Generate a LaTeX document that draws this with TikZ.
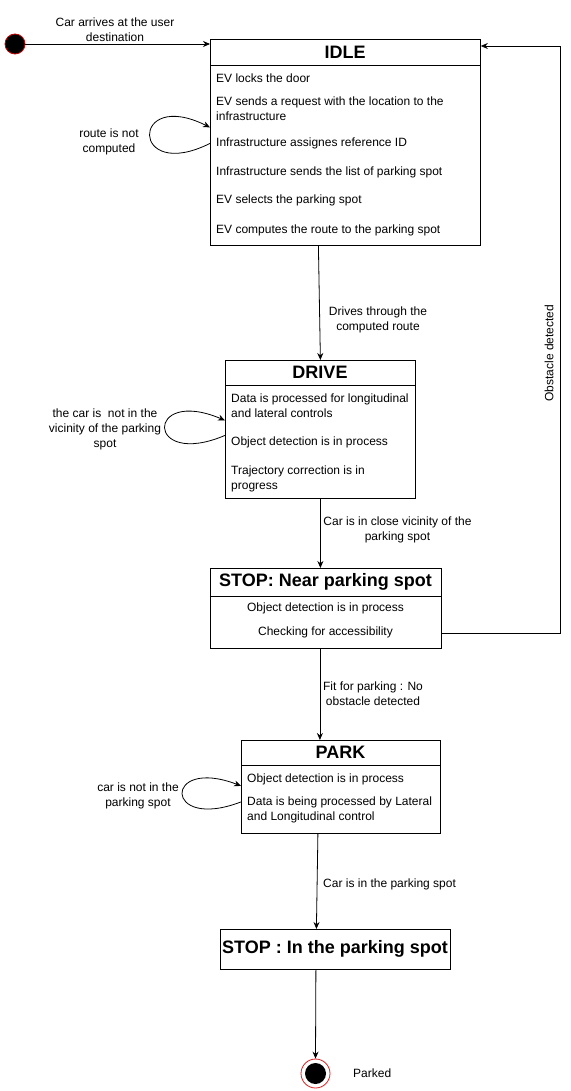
\documentclass[tikz,border=0pt]{standalone}
\usepackage{fontspec}
\setmainfont{Liberation Sans}
\usetikzlibrary{arrows.meta}
\begin{document}
\begin{tikzpicture}[x=1pt,y=-1pt,
  statebox/.style={draw=black,line width=0.8pt,rectangle,inner sep=0pt,anchor=north west},
  ttl/.style={font=\fontsize{18}{21}\selectfont\bfseries,inner sep=0pt},
  body/.style={font=\fontsize{12}{15}\selectfont,inner sep=0pt,anchor=west,align=left},
  cbody/.style={font=\fontsize{12}{15}\selectfont,inner sep=0pt,align=center},
  lbl/.style={font=\fontsize{12}{15}\selectfont,inner sep=0pt,align=center},
  arr/.style={draw=black,line width=0.8pt,-{Stealth[length=7pt,width=6pt]}},
  hdr/.style={draw=black,line width=0.8pt}]
\useasboundingbox[fill=white] (0,0) rectangle (570,1091);

% initial
\node[circle,fill=black,draw={rgb,255:red,190;green,0;blue,0},line width=0.8pt,minimum size=20pt,inner sep=0pt] (init) at (15,44) {};

% IDLE
\node[statebox,minimum width=270pt,minimum height=206pt] (idle) at (210,39) {};
\draw[hdr] ([yshift=-26pt]idle.north west) -- ([yshift=-26pt]idle.north east);
\node[ttl] (idleT) at (345,52) {IDLE};
\node[body] (i1) at (216,78) {EV locks the door};
\node[body] (i2) at (216,109) {EV sends a request with the location to the\\infrastructure};
\node[body] (i3) at (216,143) {Infrastructure assignes reference ID};
\node[body] (i4) at (216,172) {Infrastructure sends the list of parking spot};
\node[body] (i5) at (216,200) {EV selects the parking spot};
\node[body] (i6) at (216,230) {EV computes the route to the parking spot};

% DRIVE
\node[statebox,minimum width=190pt,minimum height=138pt] (drive) at (225,360) {};
\draw[hdr] ([yshift=-25pt]drive.north west) -- ([yshift=-25pt]drive.north east);
\node[ttl] (driveT) at (320,372) {DRIVE};
\node[body] (d1) at (231,405.5) {Data is processed for longitudinal\\and lateral controls};
\node[body] (d2) at (231,442) {Object detection is in process};
\node[body] (d3) at (231,479) {Trajectory correction is in\\progress};

% STOP near
\node[statebox,minimum width=231pt,minimum height=80pt] (stop) at (210,568) {};
\draw[hdr] ([yshift=-28pt]stop.north west) -- ([yshift=-28pt]stop.north east);
\node[ttl] (stopT) at (325.5,581.5) {STOP: Near parking spot};
\node[cbody] (s1) at (325.5,608) {Object detection is in process};
\node[cbody] (s2) at (325.5,632) {Checking for accessibility};

% PARK
\node[statebox,minimum width=199pt,minimum height=93pt] (park) at (241,740) {};
\draw[hdr] ([yshift=-25pt]park.north west) -- ([yshift=-25pt]park.north east);
\node[ttl] (parkT) at (340.5,752) {PARK};
\node[body] (p1) at (247,779) {Object detection is in process};
\node[body] (p2) at (247,810) {Data is being processed by Lateral\\and Longitudinal control};

% STOP in
\node[statebox,minimum width=230pt,minimum height=40pt] (stop2) at (220,929) {};
\node[ttl] (stop2T) at (335,949) {STOP : In the parking spot};

% final
\node[circle,draw={rgb,255:red,220;green,30;blue,30},fill=white,line width=0.8pt,minimum size=29pt,inner sep=0pt] (fin) at (315.5,1073.5) {};
\node[circle,fill=black,minimum size=21pt,inner sep=0pt] (finIn) at (fin.center) {};

% edges
\draw[arr] (init) -- (init -| idle.west);
\node[lbl] (l0) at (115,29.5) {Car arrives at the user\\destination};

\draw[arr] ([yshift=-1pt]idle.west) .. controls +(-80,40) and +(-80,-40) .. ([yshift=15pt]idle.west);
\node[lbl] (l1) at (109,142) {route is not\\computed};

\draw[arr] ([xshift=-27pt]idle.south) -- (drive.north);
\node[lbl] (l2) at (378,319.5) {Drives through the\\computed route};

\draw[arr] ([yshift=-6pt]drive.west) .. controls +(-80,34) and +(-80,-34) .. ([yshift=9pt]drive.west);
\node[lbl] (l3) at (105,429) {the car is\ \ not in the\\vicinity of the parking\\spot};

\draw[arr] (drive.south) -- (drive.south |- stop.north);
\node[lbl] (l4) at (397.5,529.5) {Car is in close vicinity of the\\parking spot};

\draw[arr] ([yshift=-25pt]stop.east) -- ++(119,0) |- ([yshift=-7pt]idle.north east);
\node[lbl,rotate=90] (l5) at (549,353) {Obstacle detected};

\draw[arr] ([xshift=-6pt]stop.south) -- ([xshift=-21pt]park.north);
\node[lbl] (l6) at (373,694) {Fit for parking : No\\obstacle detected};

\draw[arr] ([yshift=-15pt]park.west) .. controls +(-78,30) and +(-78,-30) .. ([yshift=1pt]park.west);
\node[lbl] (l7) at (138,796) {car is not in the\\parking spot};

\draw[arr] ([xshift=-23pt]park.south) -- ([xshift=-19pt]stop2.north);
\node[lbl,anchor=west] (l8) at (323,884) {Car is in the parking spot};

\draw[arr] ([xshift=-19.5pt]stop2.south) -- (fin.north);
\node[lbl,anchor=west] (l9) at (353,1073.5) {Parked};
\end{tikzpicture}
\end{document}
